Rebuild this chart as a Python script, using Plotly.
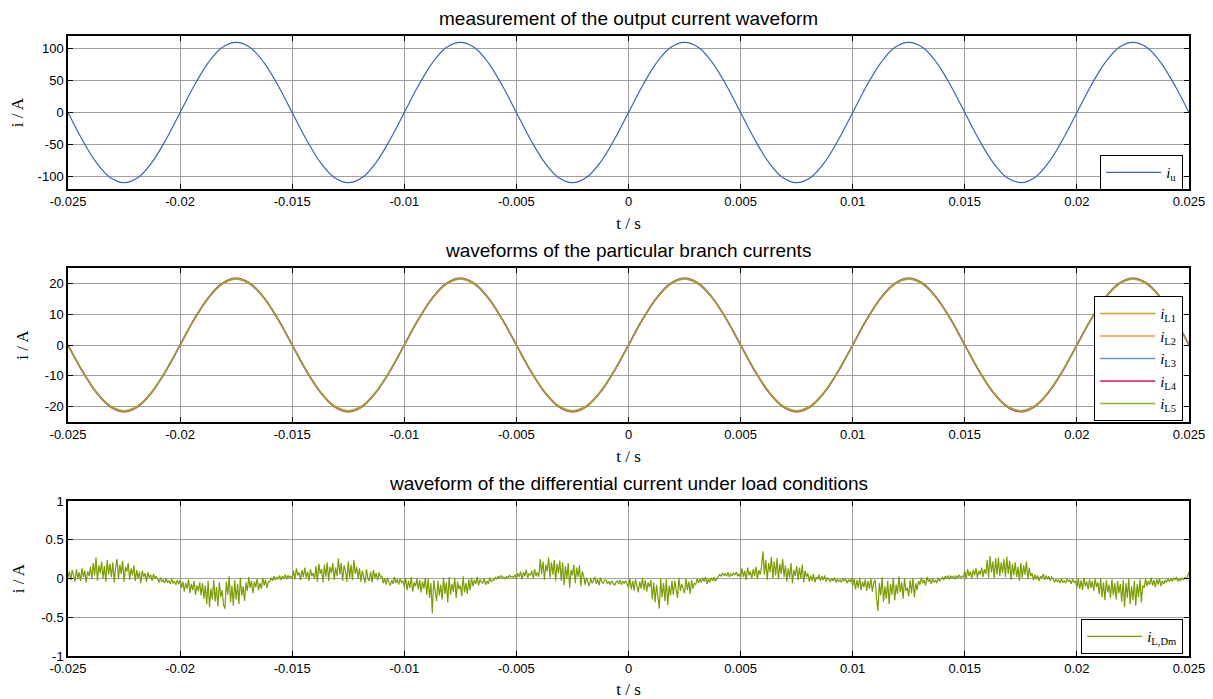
import plotly.graph_objects as go

# ---------------- data ----------------
t_start = -0.025
step_u = 0.000625
step_b = 0.000625
step_d = 0.0000625

i_u = [0, -42, -78, -102, -110, -102, -78, -42, 0, 42, 78, 102, 110, 102, 78, 42,
       0, -42, -78, -102, -110, -102, -78, -42, 0, 42, 78, 102, 110, 102, 78, 42,
       0, -42, -78, -102, -110, -102, -78, -42, 0, 42, 78, 102, 110, 102, 78, 42,
       0, -42, -78, -102, -110, -102, -78, -42, 0, 42, 78, 102, 110, 102, 78, 42,
       0, -42, -78, -102, -110, -102, -78, -42, 0, 42, 78, 102, 110, 102, 78, 42,
       0]

i_L1 = [0, -8.2, -15.1, -19.7, -21.3, -19.7, -15.1, -8.2, 0, 8.2, 15.1, 19.7, 21.3, 19.7, 15.1, 8.2,
        0, -8.2, -15.1, -19.7, -21.3, -19.7, -15.1, -8.2, 0, 8.2, 15.1, 19.7, 21.3, 19.7, 15.1, 8.2,
        0, -8.2, -15.1, -19.7, -21.3, -19.7, -15.1, -8.2, 0, 8.2, 15.1, 19.7, 21.3, 19.7, 15.1, 8.2,
        0, -8.2, -15.1, -19.7, -21.3, -19.7, -15.1, -8.2, 0, 8.2, 15.1, 19.7, 21.3, 19.7, 15.1, 8.2,
        0, -8.2, -15.1, -19.7, -21.3, -19.7, -15.1, -8.2, 0, 8.2, 15.1, 19.7, 21.3, 19.7, 15.1, 8.2,
        0]
i_L2 = [0, -8.2, -15.1, -19.8, -21.4, -19.8, -15.1, -8.2, 0, 8.2, 15.1, 19.8, 21.4, 19.8, 15.1, 8.2,
        0, -8.2, -15.1, -19.8, -21.4, -19.8, -15.1, -8.2, 0, 8.2, 15.1, 19.8, 21.4, 19.8, 15.1, 8.2,
        0, -8.2, -15.1, -19.8, -21.4, -19.8, -15.1, -8.2, 0, 8.2, 15.1, 19.8, 21.4, 19.8, 15.1, 8.2,
        0, -8.2, -15.1, -19.8, -21.4, -19.8, -15.1, -8.2, 0, 8.2, 15.1, 19.8, 21.4, 19.8, 15.1, 8.2,
        0, -8.2, -15.1, -19.8, -21.4, -19.8, -15.1, -8.2, 0, 8.2, 15.1, 19.8, 21.4, 19.8, 15.1, 8.2,
        0]
i_L3 = [0, -8.3, -15.3, -20.0, -21.6, -20.0, -15.3, -8.3, 0, 8.3, 15.3, 20.0, 21.6, 20.0, 15.3, 8.3,
        0, -8.3, -15.3, -20.0, -21.6, -20.0, -15.3, -8.3, 0, 8.3, 15.3, 20.0, 21.6, 20.0, 15.3, 8.3,
        0, -8.3, -15.3, -20.0, -21.6, -20.0, -15.3, -8.3, 0, 8.3, 15.3, 20.0, 21.6, 20.0, 15.3, 8.3,
        0, -8.3, -15.3, -20.0, -21.6, -20.0, -15.3, -8.3, 0, 8.3, 15.3, 20.0, 21.6, 20.0, 15.3, 8.3,
        0, -8.3, -15.3, -20.0, -21.6, -20.0, -15.3, -8.3, 0, 8.3, 15.3, 20.0, 21.6, 20.0, 15.3, 8.3,
        0]
i_L4 = [0, -8.3, -15.3, -20.0, -21.7, -20.0, -15.3, -8.3, 0, 8.3, 15.3, 20.0, 21.7, 20.0, 15.3, 8.3,
        0, -8.3, -15.3, -20.0, -21.7, -20.0, -15.3, -8.3, 0, 8.3, 15.3, 20.0, 21.7, 20.0, 15.3, 8.3,
        0, -8.3, -15.3, -20.0, -21.7, -20.0, -15.3, -8.3, 0, 8.3, 15.3, 20.0, 21.7, 20.0, 15.3, 8.3,
        0, -8.3, -15.3, -20.0, -21.7, -20.0, -15.3, -8.3, 0, 8.3, 15.3, 20.0, 21.7, 20.0, 15.3, 8.3,
        0, -8.3, -15.3, -20.0, -21.7, -20.0, -15.3, -8.3, 0, 8.3, 15.3, 20.0, 21.7, 20.0, 15.3, 8.3,
        0]
i_L5 = [0, -8.2, -15.2, -19.9, -21.5, -19.9, -15.2, -8.2, 0, 8.2, 15.2, 19.9, 21.5, 19.9, 15.2, 8.2,
        0, -8.2, -15.2, -19.9, -21.5, -19.9, -15.2, -8.2, 0, 8.2, 15.2, 19.9, 21.5, 19.9, 15.2, 8.2,
        0, -8.2, -15.2, -19.9, -21.5, -19.9, -15.2, -8.2, 0, 8.2, 15.2, 19.9, 21.5, 19.9, 15.2, 8.2,
        0, -8.2, -15.2, -19.9, -21.5, -19.9, -15.2, -8.2, 0, 8.2, 15.2, 19.9, 21.5, 19.9, 15.2, 8.2,
        0, -8.2, -15.2, -19.9, -21.5, -19.9, -15.2, -8.2, 0, 8.2, 15.2, 19.9, 21.5, 19.9, 15.2, 8.2,
        0]

i_LDm = [
    0.02, 0.09, -0.02, 0.11, 0.04, -0.04, 0.12, 0.00, 0.08, -0.03, 0.13, 0.02, 0.10, -0.05, 0.09, 0.03,
    0.15, -0.01, 0.20, 0.04, 0.27, -0.03, 0.17, 0.07, 0.22, 0.00, 0.16, -0.04, 0.24, 0.05, 0.19, 0.02,
    0.21, -0.05, 0.14, 0.25, -0.01, 0.18, 0.06, 0.23, -0.04, 0.15, 0.09, 0.20, -0.02, 0.13, 0.04, 0.17,
    -0.03, 0.11, 0.00, 0.09, -0.06, 0.10, 0.02, 0.07, -0.04, 0.08, 0.01, 0.05, -0.03, 0.06, 0.00, 0.03,
    -0.01, -0.05, 0.01, -0.04, -0.02, -0.06, 0.00, -0.05, -0.03, -0.07, -0.01, -0.06, -0.04, -0.08, -0.02, -0.07,
    -0.02, -0.12, -0.04, -0.17, -0.06, -0.13, -0.01, -0.19, -0.07, -0.15, -0.03, -0.21, -0.09, -0.16, -0.05, -0.22,
    -0.06, -0.26, -0.09, -0.33, -0.03, -0.37, -0.13, -0.27, -0.02, -0.30, -0.11, -0.36, -0.05, -0.24, -0.15, -0.34,
    -0.39, -0.04, -0.21, 0.03, -0.31, -0.09, -0.35, -0.02, -0.27, -0.07, -0.33, 0.01, -0.22, -0.10, -0.29, -0.05,
    -0.16, 0.02, -0.12, -0.03, -0.19, -0.04, -0.11, 0.00, -0.15, -0.06, -0.13, 0.01, -0.09, -0.02, -0.12, -0.04,
    -0.04, 0.01, -0.03, 0.03, -0.02, 0.02, -0.01, 0.04, -0.02, 0.03, 0.00, 0.05, -0.01, 0.04, 0.01, 0.03,
    0.00, 0.10, -0.01, 0.13, 0.04, 0.08, -0.02, 0.11, 0.02, 0.14, 0.01, 0.09, -0.03, 0.12, 0.03, 0.07,
    -0.01, 0.16, -0.04, 0.19, 0.06, 0.12, -0.05, 0.18, 0.02, 0.21, -0.03, 0.15, 0.07, 0.20, -0.02, 0.14,
    0.03, 0.26, 0.05, 0.20, -0.03, 0.17, 0.10, -0.04, 0.22, 0.01, 0.18, -0.02, 0.24, 0.06, 0.15, 0.00,
    0.13, -0.04, 0.10, 0.03, -0.06, 0.12, 0.00, -0.03, 0.09, -0.05, 0.11, 0.01, 0.07, -0.02, 0.08, 0.02,
    0.03, -0.06, 0.00, -0.08, 0.01, -0.05, -0.09, -0.02, -0.07, 0.02, -0.06, -0.01, -0.08, 0.00, -0.05, -0.03,
    -0.11, 0.01, -0.15, -0.03, -0.12, 0.02, -0.17, -0.05, -0.10, 0.00, -0.14, -0.02, -0.18, -0.04, -0.13, 0.01,
    -0.21, 0.00, -0.25, -0.06, -0.45, -0.02, -0.19, -0.29, -0.03, -0.22, -0.08, -0.27, 0.01, -0.20, -0.05, -0.31,
    0.02, -0.21, -0.07, -0.17, 0.01, -0.25, -0.04, -0.14, -0.09, -0.23, 0.03, -0.18, -0.06, -0.20, -0.01, -0.15,
    0.01, -0.10, -0.02, -0.07, 0.02, -0.09, -0.01, -0.05, -0.06, 0.00, -0.08, -0.03, -0.07, 0.01, -0.04, -0.02,
    -0.02, 0.02, -0.01, 0.03, 0.00, 0.04, 0.01, 0.02, -0.01, 0.03, 0.00, 0.04, 0.02, 0.03, 0.01, 0.05,
    0.00, 0.07, 0.02, 0.09, -0.01, 0.08, 0.03, 0.11, 0.01, 0.06, 0.04, 0.10, 0.00, 0.12, 0.03, 0.08,
    0.02, 0.25, 0.06, 0.22, -0.02, 0.18, 0.09, 0.27, 0.01, 0.21, 0.05, 0.24, -0.03, 0.19, 0.07, 0.23,
    -0.03, 0.21, -0.09, 0.16, 0.00, 0.20, -0.12, 0.11, 0.04, 0.18, -0.06, 0.14, 0.02, 0.17, -0.10, 0.09,
    0.03, -0.08, 0.01, -0.05, -0.10, 0.00, -0.06, -0.03, 0.02, -0.07, -0.01, -0.09, 0.01, -0.04, -0.06, -0.02,
    -0.02, -0.07, -0.04, -0.08, -0.03, -0.06, -0.09, -0.05, -0.03, -0.07, -0.02, -0.08, -0.04, -0.06, -0.03, -0.07,
    -0.12, 0.00, -0.14, -0.03, -0.16, -0.01, -0.10, -0.18, -0.04, -0.13, 0.01, -0.15, -0.02, -0.17, -0.05, -0.11,
    -0.02, -0.27, -0.05, -0.31, -0.08, -0.21, -0.39, 0.00, -0.24, -0.06, -0.29, -0.01, -0.34, -0.09, -0.22, -0.03,
    -0.21, -0.03, -0.14, -0.25, 0.01, -0.16, -0.07, -0.12, -0.19, 0.00, -0.15, -0.04, -0.20, -0.02, -0.13, -0.06,
    -0.08, 0.00, -0.06, -0.01, -0.05, 0.01, -0.04, 0.02, -0.07, -0.01, -0.05, 0.01, -0.03, 0.02, -0.04, 0.00,
    0.02, 0.05, 0.03, 0.07, 0.04, 0.06, 0.03, 0.08, 0.02, 0.06, 0.04, 0.07, 0.05, 0.08, 0.03, 0.06,
    0.01, 0.13, 0.02, 0.10, -0.02, 0.14, 0.04, 0.09, 0.00, 0.12, 0.03, 0.15, -0.01, 0.11, 0.05, 0.16,
    0.35, 0.05, 0.24, -0.02, 0.20, 0.08, 0.28, 0.00, 0.22, 0.04, 0.26, -0.01, 0.19, 0.06, 0.25, 0.02,
    0.17, -0.04, 0.13, 0.01, 0.20, -0.06, 0.11, 0.03, 0.16, -0.02, 0.14, 0.00, 0.18, -0.05, 0.10, 0.02,
    0.07, -0.04, 0.04, -0.03, 0.06, -0.05, 0.02, -0.01, 0.05, -0.03, 0.03, -0.02, 0.04, -0.04, 0.01, -0.02,
    -0.04, 0.00, -0.03, 0.01, -0.05, -0.01, -0.04, -0.02, -0.05, 0.00, -0.03, -0.01, -0.06, -0.02, -0.04, 0.00,
    -0.10, 0.00, -0.14, -0.02, -0.12, 0.01, -0.15, -0.04, -0.11, -0.01, -0.16, -0.03, -0.13, 0.00, -0.17, -0.05,
    -0.02, -0.25, -0.42, -0.06, -0.22, 0.02, -0.30, -0.10, -0.26, -0.03, -0.33, -0.07, -0.21, 0.01, -0.28, -0.08,
    -0.20, 0.03, -0.18, -0.05, -0.26, 0.00, -0.16, -0.12, -0.23, -0.02, -0.19, 0.01, -0.24, -0.06, -0.15, -0.03,
    -0.08, 0.01, -0.06, -0.02, -0.09, 0.02, -0.04, -0.01, -0.07, 0.00, -0.05, -0.02, -0.06, 0.01, -0.03, -0.01,
    0.02, -0.02, 0.03, 0.00, 0.04, -0.01, 0.03, 0.01, 0.03, -0.01, 0.04, 0.00, 0.05, 0.01, 0.03, 0.02,
    0.10, -0.01, 0.12, 0.03, 0.09, 0.00, 0.11, 0.04, 0.13, 0.01, 0.10, 0.05, 0.14, 0.02, 0.12, 0.06,
    0.24, 0.01, 0.29, 0.08, 0.22, 0.00, 0.26, 0.05, 0.27, 0.03, 0.21, 0.07, 0.25, 0.02, 0.28, 0.06,
    0.23, -0.02, 0.19, 0.04, 0.21, 0.02, 0.15, -0.03, 0.20, 0.01, 0.17, 0.05, 0.22, -0.01, 0.14, 0.03,
    0.07, -0.02, 0.05, -0.01, 0.04, -0.03, 0.03, 0.00, 0.06, -0.02, 0.04, -0.01, 0.03, -0.03, 0.02, 0.00,
    -0.05, -0.01, -0.04, -0.02, -0.06, 0.00, -0.05, -0.03, -0.06, -0.01, -0.04, -0.02, -0.07, -0.01, -0.05, -0.03,
    -0.12, 0.00, -0.13, -0.02, -0.15, 0.01, -0.10, -0.04, -0.14, -0.01, -0.12, -0.03, -0.16, 0.00, -0.11, -0.05,
    -0.20, 0.00, -0.24, -0.05, -0.28, -0.02, -0.18, -0.08, -0.25, -0.01, -0.22, -0.06, -0.27, -0.03, -0.19, -0.07,
    -0.30, -0.02, -0.37, -0.06, -0.25, 0.00, -0.33, -0.10, -0.28, -0.03, -0.35, -0.07, -0.24, -0.01, -0.31, -0.09,
    -0.12, 0.00, -0.10, -0.03, -0.08, 0.01, -0.09, -0.02, -0.11, -0.01, -0.08, 0.00, -0.10, -0.03, -0.07, -0.02,
    -0.05, 0.00, -0.04, -0.01, -0.03, 0.01, -0.02, 0.02, -0.04, 0.00, -0.03, 0.01, -0.02, 0.02, -0.01, 0.03,
    0.08]

x_tickvals = [-0.025, -0.02, -0.015, -0.01, -0.005, 0, 0.005, 0.01, 0.015, 0.02, 0.025]
x_ticktext = ["-0.025", "-0.02", "-0.015", "-0.01", "-0.005", "0", "0.005", "0.01", "0.015", "0.02", "0.025"]
y1_tickvals = [-100, -50, 0, 50, 100]
y1_ticktext = ["-100", "-50", "0", "50", "100"]
y2_tickvals = [-20, -10, 0, 10, 20]
y2_ticktext = ["-20", "-10", "0", "10", "20"]
y3_tickvals = [-1, -0.5, 0, 0.5, 1]
y3_ticktext = ["-1", "-0.5", "0", "0.5", "1"]

titles = ["measurement of the output current waveform",
          "waveforms of the particular branch currents",
          "waveform of the differential current under load conditions"]

branch_names = ["<i>i</i><sub>L1</sub>", "<i>i</i><sub>L2</sub>", "<i>i</i><sub>L3</sub>",
                "<i>i</i><sub>L4</sub>", "<i>i</i><sub>L5</sub>"]
branch_colors = ["#D4A020", "#FF9955", "#6F92CF", "#E0106A", "#8CB034"]

# ---------------- figure ----------------
# the page body adds an 8 px margin, so the figure is 8 px smaller and
# reference pixel positions are shifted by 8 px
OFF = 8
W, H = 1213 - OFF, 699 - OFF
def px_x(p): return (p - OFF) / W
def px_y(p): return 1 - (p - OFF) / H

fig = go.Figure()

def tvals(n, step):
    return [t_start + k * step for k in range(n)]

fig.add_trace(go.Scatter(x=tvals(len(i_u), step_u), y=i_u, mode="lines",
                         line=dict(color="#3C64B4", width=1.2, shape="spline"),
                         name="<i>i</i><sub>u</sub>", xaxis="x", yaxis="y", legend="legend"))

for name, col, ser in zip(branch_names, branch_colors, [i_L1, i_L2, i_L3, i_L4, i_L5]):
    fig.add_trace(go.Scatter(x=tvals(len(ser), step_b), y=ser, mode="lines",
                             line=dict(color=col, width=1.4, shape="spline"),
                             name=name, xaxis="x2", yaxis="y2", legend="legend2"))

fig.add_trace(go.Scatter(x=tvals(len(i_LDm), step_d), y=i_LDm, mode="lines",
                         line=dict(color="#7A9E00", width=1.2),
                         name="<i>i</i><sub>L,Dm</sub>", xaxis="x3", yaxis="y3", legend="legend3"))

xdom = [px_x(68), px_x(1189)]
ydoms = [[px_y(189), px_y(36)], [px_y(422), px_y(268)], [px_y(656), px_y(501)]]
yranges = [[-120, 120], [-25, 25], [-1, 1]]
yticks = [(y1_tickvals, y1_ticktext), (y2_tickvals, y2_ticktext), (y3_tickvals, y3_ticktext)]

tickfont = dict(family="Liberation Sans, Arial", size=13, color="black")
serif = "Liberation Serif, Times New Roman"

axis_common = dict(showline=True, linecolor="black", linewidth=1.5, mirror="ticks",
                   ticks="inside", ticklen=5, tickcolor="black", tickwidth=1,
                   showgrid=True, gridcolor="#A0A0A0", gridwidth=1, zeroline=False,
                   tickfont=tickfont, automargin=False)

layout = {}
for i in range(3):
    sx = "" if i == 0 else str(i + 1)
    layout["xaxis" + sx] = dict(domain=xdom, range=[-0.025, 0.025], tickvals=x_tickvals,
                                ticktext=x_ticktext, anchor="y" + sx,
                                title=dict(text="t / s", font=dict(family=serif, size=17, color="black"),
                                           standoff=9),
                                **axis_common)
    layout["yaxis" + sx] = dict(domain=ydoms[i], range=yranges[i], tickvals=yticks[i][0],
                                ticktext=yticks[i][1], anchor="x" + sx,
                                title=dict(text="i / A", font=dict(family=serif, size=17, color="black"),
                                           standoff=12),
                                **axis_common)

annotations = []
for i, (txt, ypx) in enumerate(zip(titles, [18, 250, 483])):
    annotations.append(dict(text=txt, x=(xdom[0] + xdom[1]) / 2, y=px_y(ypx), xref="paper", yref="paper",
                            xanchor="center", yanchor="middle", showarrow=False,
                            font=dict(family="Liberation Sans, Arial", size=19, color="black")))

legend_common = dict(bgcolor="white", bordercolor="black", borderwidth=1.2,
                     font=dict(family=serif, size=15, color="black"),
                     xanchor="right", yanchor="top", itemwidth=55, tracegroupgap=0)

fig.update_layout(
    width=W, height=H, margin=dict(l=0, r=0, t=0, b=0),
    paper_bgcolor="white", plot_bgcolor="white",
    annotations=annotations,
    legend=dict(x=px_x(1183), y=px_y(155), **legend_common),
    legend2=dict(x=px_x(1183), y=px_y(296), **legend_common),
    legend3=dict(x=px_x(1183), y=px_y(619), **legend_common),
    showlegend=True,
    **layout,
)

fig.write_html("out.html")
